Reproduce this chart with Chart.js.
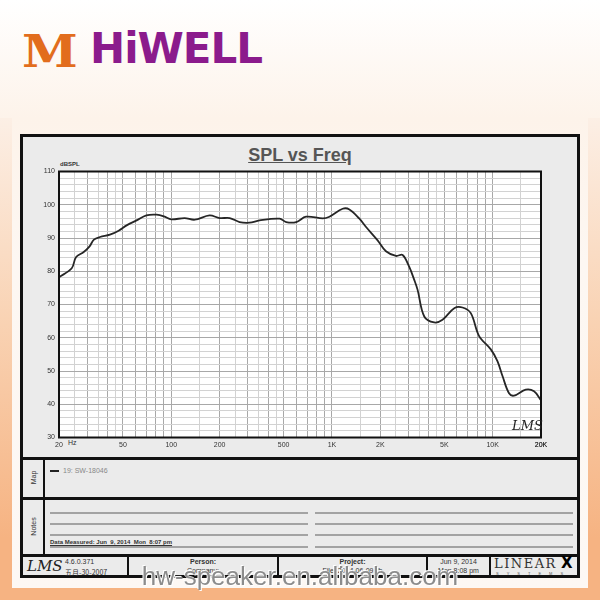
<!DOCTYPE html>
<html>
<head>
<meta charset="utf-8">
<script src="https://cdn.jsdelivr.net/npm/chart.js@4.4.1/dist/chart.umd.min.js"></script>
<style>
  body { margin: 0; }
  #page { position: relative; width: 600px; height: 600px; overflow: hidden;
    background: linear-gradient(#ffffff 0px, #fdf3ea 118px, #fdf7f2 260px, #fdf8f4 600px);
    font-family: "Liberation Sans", Arial, sans-serif; }
  .a { position: absolute; }
  .t { position: absolute; font-size: 7px; color: #333; white-space: nowrap; }
  .blk { position: absolute; background: #111; }
  .gl { position: absolute; height: 2px; background: #a3a3a3; }
  .side { position: absolute; top: 118px; width: 12px; height: 482px;
    background: linear-gradient(#fcefe5 0px, #f9d3b4 200px, #f6b382 420px); }
  #chartBox { position: absolute; left: 0; top: 0; width: 600px; height: 600px; }
</style>
</head>
<body>
<div id="page">
  <!-- logo -->
  <div class="a" style="left:22px;top:25px;font:bold 45px 'DejaVu Serif',serif;color:#e26d1d;transform:scaleX(1.12);transform-origin:left top;">M</div>
  <div class="a" style="left:90px;top:24px;font:bold 42px 'DejaVu Sans',sans-serif;color:#8b1b8c;letter-spacing:-1px;">HiWELL</div>

  <!-- orange border -->
  <div class="side" style="left:0;"></div>
  <div class="side" style="left:588px;"></div>
  <div class="a" style="left:0;top:588px;width:600px;height:12px;background:#f6b382;"></div>

  <!-- frame -->
  <div class="a" style="left:20px;top:134px;width:560px;height:444px;box-sizing:border-box;border:3px solid #111;background:#ebebeb;"></div>
  <div class="a" style="left:0;top:145px;width:600px;text-align:center;font:bold 18px 'Liberation Sans',Arial,sans-serif;color:#555;text-decoration:underline;">SPL vs Freq</div>
  <div class="t" style="left:60px;top:161px;font-size:6px;font-weight:bold;">dBSPL</div>
  <div class="t" style="left:68px;top:439px;">Hz</div>

  <!-- map / notes / footer grid -->
  <div class="blk" style="left:20px;top:457px;width:560px;height:3px;"></div>
  <div class="blk" style="left:20px;top:497px;width:560px;height:3px;"></div>
  <div class="blk" style="left:20px;top:554px;width:560px;height:3px;"></div>
  <div class="blk" style="left:43px;top:457px;width:2px;height:98px;"></div>
  <div class="blk" style="left:127px;top:555px;width:2px;height:22px;"></div>
  <div class="blk" style="left:277px;top:555px;width:2px;height:22px;"></div>
  <div class="blk" style="left:426px;top:555px;width:2px;height:22px;"></div>
  <div class="blk" style="left:489px;top:555px;width:2px;height:22px;"></div>

  <div class="t" style="left:22px;top:474px;width:22px;text-align:center;transform:rotate(-90deg);">Map</div>
  <div class="t" style="left:20px;top:523px;width:26px;text-align:center;transform:rotate(-90deg);">Notes</div>
  <div class="a" style="left:50px;top:470px;width:9px;height:1.5px;background:#222;"></div>
  <div class="t" style="left:63px;top:467px;color:#888;">19: SW-18046</div>

  <div class="gl" style="left:50px;top:512px;width:258px;"></div>
  <div class="gl" style="left:50px;top:523px;width:258px;"></div>
  <div class="gl" style="left:50px;top:534px;width:258px;"></div>
  <div class="gl" style="left:50px;top:546px;width:258px;"></div>
  <div class="gl" style="left:315px;top:512px;width:258px;"></div>
  <div class="gl" style="left:315px;top:523px;width:258px;"></div>
  <div class="gl" style="left:315px;top:534px;width:258px;"></div>
  <div class="gl" style="left:315px;top:546px;width:258px;"></div>
  <div class="t" style="left:50px;top:539px;font-size:6px;font-weight:bold;text-decoration:underline;">Data Measured: Jun &nbsp;9, 2014 &nbsp;Mon &nbsp;8:07 pm</div>

  <div class="a" style="left:27px;top:557px;font:italic 15px 'DejaVu Serif',serif;color:#222;">LMS</div>
  <div class="t" style="left:65px;top:558px;">4.6.0.371</div>
  <div class="t" style="left:65px;top:567px;font-family:'Noto Sans CJK SC',sans-serif;">五月-30-2007</div>
  <div class="t" style="left:129px;top:558px;width:148px;text-align:center;font-weight:bold;">Person:</div>
  <div class="t" style="left:129px;top:567px;width:148px;text-align:center;">Company:</div>
  <div class="t" style="left:279px;top:558px;width:147px;text-align:center;font-weight:bold;">Project:</div>
  <div class="t" style="left:279px;top:567px;width:147px;text-align:center;">File: 2014-06-09.lib</div>
  <div class="t" style="left:428px;top:558px;width:61px;text-align:center;">Jun 9, 2014</div>
  <div class="t" style="left:428px;top:567px;width:61px;text-align:center;">Mon 8:08 pm</div>
  <div class="a" style="left:494px;top:556px;font:13px 'DejaVu Serif',serif;color:#333;letter-spacing:1.5px;">LINEAR</div>
  <div class="a" style="left:561px;top:554px;font:bold 15px 'DejaVu Sans',sans-serif;color:#000;">X</div>
  <div class="t" style="left:496px;top:571px;font-size:4px;letter-spacing:8px;color:#555;">SYSTEMS</div>

  <div id="chartBox"><canvas id="splChart"></canvas></div>

  <div class="a" style="left:512px;top:418px;font:italic 13px 'DejaVu Serif',serif;color:#222;z-index:3;">LMS</div>
  <div class="a" style="left:0;top:561px;width:600px;text-align:center;font:26px 'Liberation Sans',Arial,sans-serif;color:#8c8c8c;text-shadow:1px 1px 0 #fff,-1px -1px 0 #fff;z-index:3;">hw-speaker.en.alibaba.com</div>
</div>

<script>
// measured curve (Hz, dBSPL)
const freqs = [20, 24, 25.5, 28.5, 31, 33, 36, 41.5, 47, 52.7,
  60.8, 70, 81, 90, 100, 121, 140, 173, 200, 231,
  266, 307, 354, 472, 519, 599, 690, 877, 964, 1166,
  1284, 1482, 1630, 1924, 2168, 2504, 2752, 3028, 3252, 3412,
  3754, 4328, 4876, 5768, 6492, 7314, 8240, 9740, 10712, 11534,
  12650, 13590, 16070, 18100, 20000];
const spl = [78.2, 80.9, 84.2, 85.8, 87.5, 89.5, 90.3, 91.0, 92.2, 93.8,
  95.3, 96.8, 97.0, 96.5, 95.6, 96.0, 95.5, 96.8, 96.0, 96.0,
  94.8, 94.6, 95.3, 95.8, 94.8, 94.8, 96.4, 95.9, 96.4, 98.8,
  98.6, 95.8, 93.3, 89.3, 86.0, 84.6, 84.9, 81.3, 77.4, 74.4,
  66.4, 64.6, 65.4, 68.9, 69.1, 67.4, 60.5, 56.5, 53.0, 48.4,
  43.3, 42.6, 44.4, 43.9, 41.2];

// axis labels
const xLabelFreqs = [20, 50, 100, 200, 500, 1000, 2000, 5000, 10000, 20000];
const xLabelTexts = ['20', '50', '100', '200', '500', '1K', '2K', '5K', '10K', '20K'];
const yLabels = [30, 40, 50, 60, 70, 80, 90, 100, 110];

// grid layout of the LMS paper
const gridMults = [1, 1.5, 2, 2.5, 3, 3.5, 4, 4.5, 5, 6, 7, 8, 9];
let gridFreqs = [];
[10, 100, 1000, 10000].forEach((d) => {
  gridMults.forEach((m) => {
    let v = Math.round(m * d);
    if (v >= 20 && v <= 20000) gridFreqs.push(v);
  });
});
gridFreqs.push(20000);
let gridDb = [];
for (let v = 30; v <= 110; v += 2) gridDb.push(v);

const isMajorFreq = (v) => {
  let m = v / Math.pow(10, Math.floor(Math.log10(v) + 1e-9));
  return Math.abs(m - Math.round(m)) < 1e-6;
};

const plotFrame = {
  id: 'plotFrame',
  beforeDraw(chart) {
    const { ctx, chartArea: a } = chart;
    ctx.save();
    ctx.fillStyle = '#ffffff';
    ctx.fillRect(a.left, a.top, a.width, a.height);
    ctx.restore();
  },
  afterDraw(chart) {
    const { ctx, chartArea: a } = chart;
    ctx.save();
    ctx.strokeStyle = '#111';
    ctx.lineWidth = 2;
    ctx.strokeRect(a.left, a.top, a.width, a.height);
    ctx.restore();
  }
};

var splChart = new Chart(document.getElementById('splChart'), {
  type: 'line',
  data: {
    datasets: [{
      label: '19: SW-18046',
      data: freqs.map((f, i) => ({ x: f, y: spl[i] })),
      borderColor: '#262626',
      borderWidth: 1.8,
      pointRadius: 0,
      tension: 0.35,
      fill: false
    }]
  },
  options: {
    responsive: true,
    maintainAspectRatio: false,
    animation: false,
    layout: { padding: { left: 29, right: 59, top: 171.5, bottom: 142.5 } },
    plugins: { legend: { display: false }, tooltip: { enabled: false } },
    scales: {
      x: {
        type: 'logarithmic',
        min: 20,
        max: 20000,
        afterBuildTicks: (scale) => { scale.ticks = gridFreqs.map((v) => ({ value: v })); },
        afterFit: (scale) => { scale.height = 20; scale.paddingLeft = 0; scale.paddingRight = 0; },
        border: { display: false },
        grid: {
          drawTicks: false,
          lineWidth: 1,
          color: (c) => (c.tick && isMajorFreq(c.tick.value) ? '#a8a8a8' : '#d2d2d2')
        },
        ticks: {
          autoSkip: false,
          maxRotation: 0,
          padding: 3,
          color: '#333',
          font: { family: 'Liberation Sans', size: 7 },
          callback: (v) => {
            let i = xLabelFreqs.indexOf(Math.round(v));
            return i >= 0 ? xLabelTexts[i] : '';
          }
        }
      },
      y: {
        min: 30,
        max: 110,
        afterBuildTicks: (scale) => { scale.ticks = gridDb.map((v) => ({ value: v })); },
        afterFit: (scale) => { scale.width = 30; scale.paddingTop = 0; scale.paddingBottom = 0; },
        border: { display: false },
        grid: {
          drawTicks: false,
          lineWidth: 1,
          color: (c) => (c.tick && c.tick.value % 10 === 0 ? '#a8a8a8' : '#d2d2d2')
        },
        ticks: {
          autoSkip: false,
          padding: 4,
          color: '#333',
          font: { family: 'Liberation Sans', size: 7 },
          callback: (v) => (yLabels.includes(v) ? String(v) : '')
        }
      }
    }
  },
  plugins: [plotFrame]
});
</script>
</body>
</html>
